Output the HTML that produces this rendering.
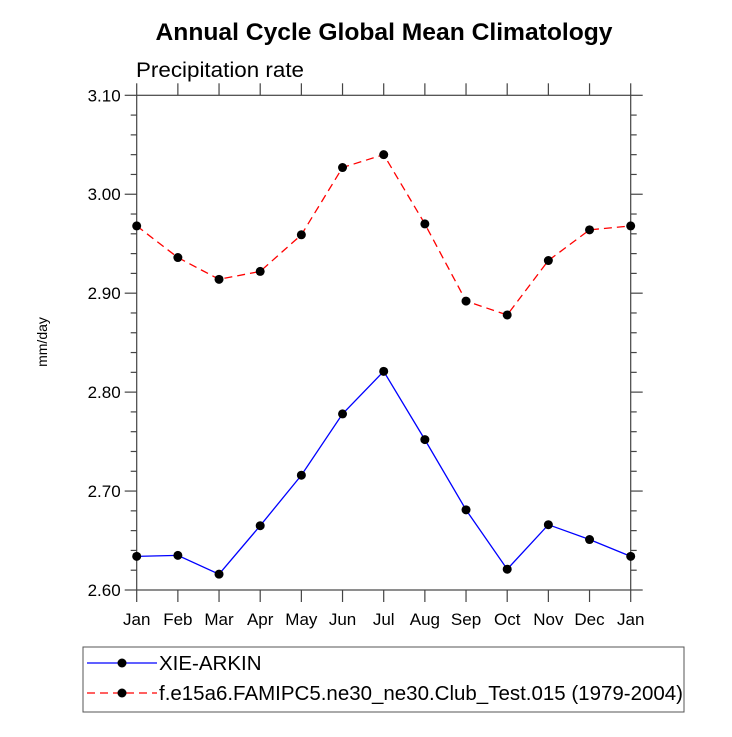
<!DOCTYPE html>
<html><head><meta charset="utf-8"><style>
body{margin:0;background:#fff}
text{font-family:"Liberation Sans",sans-serif}
</style></head><body>
<svg id="c" width="732" height="732" xmlns="http://www.w3.org/2000/svg">
<text x="384" y="40" font-size="24.5" font-weight="bold" text-anchor="middle" textLength="457" lengthAdjust="spacingAndGlyphs">Annual Cycle Global Mean Climatology</text>
<text x="136" y="77" font-size="21" textLength="168" lengthAdjust="spacingAndGlyphs">Precipitation rate</text>
<text transform="translate(47,342) rotate(-90)" font-size="14" text-anchor="middle">mm/day</text>
<g id="axes"></g>
<g id="series"></g>
<rect x="83" y="647" width="601" height="65" fill="none" stroke="#555" stroke-width="1"/>
<line x1="87" y1="663" x2="157" y2="663" stroke="#0000ff" stroke-width="1.3"/>
<circle cx="122" cy="663" r="4.5" fill="#000"/>
<text x="159" y="670" font-size="20.5">XIE-ARKIN</text>
<line x1="87" y1="693" x2="157" y2="693" stroke="#ff0000" stroke-width="1.3" stroke-dasharray="8,5"/>
<circle cx="122" cy="693" r="4.5" fill="#000"/>
<text x="159" y="700" font-size="20.5" textLength="524" lengthAdjust="spacingAndGlyphs">f.e15a6.FAMIPC5.ne30_ne30.Club_Test.015 (1979-2004)</text>
</svg>
<script>
const months=["Jan","Feb","Mar","Apr","May","Jun","Jul","Aug","Sep","Oct","Nov","Dec","Jan"];
const xieArkin=[2.634,2.635,2.616,2.665,2.716,2.778,2.821,2.752,2.681,2.621,2.666,2.651,2.634];
const model=[2.968,2.936,2.914,2.922,2.959,3.027,3.040,2.970,2.892,2.878,2.933,2.964,2.968];
const yTicks=[2.60,2.70,2.80,2.90,3.00,3.10];
const yTickLabels=["2.60","2.70","2.80","2.90","3.00","3.10"];
const L=136.7,R=630.7,T=95.3,B=590,ymin=2.6,ymax=3.1;
const NS="http://www.w3.org/2000/svg";
function xs(i){return L+(R-L)*i/(months.length-1);}
function ys(v){return B-(B-T)*(v-ymin)/(ymax-ymin);}
function mk(tag,attrs,parent){const e=document.createElementNS(NS,tag);for(const k in attrs)e.setAttribute(k,attrs[k]);parent.appendChild(e);return e;}
const ax=document.getElementById('axes');
const frame=mk('rect',{x:L,y:T,width:R-L,height:B-T,fill:'none',stroke:'#444','stroke-width':1.2},ax);


months.forEach((m,i)=>{
  const x=xs(i);
  mk('line',{x1:x,y1:B,x2:x,y2:B+12,stroke:'#444','stroke-width':1.2},ax);
  mk('line',{x1:x,y1:T,x2:x,y2:T-12,stroke:'#444','stroke-width':1.2},ax);
  const t=mk('text',{x:x,y:B+35,'font-size':17,'text-anchor':'middle'},ax);
  t.textContent=m;
  
  
});
for(let v=ymin;v<=ymax+1e-9;v+=0.02){
  const y=ys(v);const major=Math.abs(v*10-Math.round(v*10))<1e-6;const len=major?12:6;
  mk('line',{x1:L,y1:y,x2:L-len,y2:y,stroke:'#444','stroke-width':1.2},ax);
  mk('line',{x1:R,y1:y,x2:R+len,y2:y,stroke:'#444','stroke-width':1.2},ax);
}
yTicks.forEach((v,i)=>{
  const t=mk('text',{x:L-16,y:ys(v)+6,'font-size':17,'text-anchor':'end'},ax);
  t.textContent=yTickLabels[i];
  
  
});
const sg=document.getElementById('series');
function series(data,color,dash,name){
  const p=mk('polyline',{points:data.map((v,i)=>xs(i)+','+ys(v)).join(' '),fill:'none',stroke:color,'stroke-width':1.3},sg);
  if(dash)p.setAttribute('stroke-dasharray',dash);
  
  
  data.forEach((v,i)=>{
    const c=mk('circle',{cx:xs(i),cy:ys(v),r:4.5,fill:'#000'},sg);
    
    
  });
}
series(xieArkin,'#0000ff',null,'xie-arkin');
series(model,'#ff0000','8,5','model');
</script>
</body></html>
